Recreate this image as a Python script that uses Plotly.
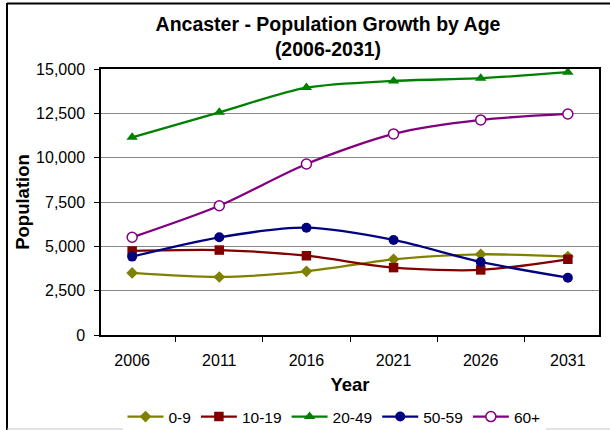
import plotly.graph_objects as go

years = ["2006", "2011", "2016", "2021", "2026", "2031"]
age_0_9 = [3500, 3270, 3590, 4270, 4550, 4420]
age_10_19 = [4740, 4790, 4470, 3800, 3670, 4270]
age_20_49 = [11150, 12560, 13950, 14330, 14480, 14820]
age_50_59 = [4420, 5510, 6050, 5360, 4120, 3230]
age_60_plus = [5510, 7290, 9645, 11340, 12130, 12465]

y_ticks = [0, 2500, 5000, 7500, 10000, 12500, 15000]

series = [
    ("0-9", age_0_9, "#808000", dict(symbol="diamond", size=9, color="#808000")),
    ("10-19", age_10_19, "#800000", dict(symbol="square", size=9.5, color="#800000")),
    ("20-49", age_20_49, "#008000", dict(symbol="triangle-up", size=10, color="#008000")),
    ("50-59", age_50_59, "#000080", dict(symbol="circle", size=10, color="#000080")),
    ("60+", age_60_plus, "#800080", dict(symbol="circle", size=10, color="#ffffff",
                                          line=dict(color="#800080", width=1.5))),
]

fig = go.Figure()
for name, vals, col, mk in series:
    fig.add_trace(go.Scatter(
        x=years, y=vals, name=name, mode="lines+markers",
        line=dict(color=col, width=2.3, shape="spline", smoothing=0.8),
        marker=mk,
    ))

FONT = "Liberation Sans, Arial, sans-serif"
L, R, T, B = 101, 11, 69, 95
W, H = 610, 430
pw, ph = W - L - R, H - T - B

def px_x(p):
    return (p - L) / pw

def px_y(p):
    return (H - B - p) / ph

fig.update_layout(
    width=W, height=H,
    margin=dict(l=L, r=R, t=T, b=B, autoexpand=False),
    paper_bgcolor="white", plot_bgcolor="white",
    font=dict(family=FONT, size=16, color="black"),
    title=dict(text="<b>Ancaster - Population Growth by Age<br>(2006-2031)</b>",
               x=328 / W, xanchor="center", y=1 - 31 / H, yanchor="middle",
               font=dict(size=19.5, family=FONT)),
    showlegend=True,
    legend=dict(orientation="h", x=px_x(334), xanchor="center", y=px_y(417),
                yanchor="middle", font=dict(size=15.5), itemwidth=36,
                tracegroupgap=0, itemclick=False),
    xaxis=dict(type="category", tickson="boundaries", ticks="outside", ticklen=5,
               tickcolor="black", showline=True, linecolor="black", linewidth=1.5,
               mirror=True, showgrid=False, tickfont=dict(size=16),
               ticklabelstandoff=10,
               title=dict(text="<b>Year</b>", font=dict(size=18.5), standoff=10)),
    yaxis=dict(range=[0, 15000], tickvals=y_ticks, tickformat=",d", ticks="outside",
               ticklen=5, tickcolor="black", showline=True, linecolor="black",
               linewidth=1.5, mirror=True, showgrid=True, gridcolor="#888888",
               gridwidth=1, zeroline=False, tickfont=dict(size=16),
               ticklabelstandoff=6,
               title=dict(text="<b>Population</b>", font=dict(size=18.5), standoff=2)),
    shapes=[
        dict(type="line", xref="paper", yref="paper", x0=px_x(7), x1=px_x(7),
             y0=px_y(3), y1=px_y(430), line=dict(color="black", width=2)),
        dict(type="line", xref="paper", yref="paper", x0=px_x(7), x1=px_x(615),
             y0=px_y(3.5), y1=px_y(3.5), line=dict(color="black", width=2)),
        dict(type="line", xref="paper", yref="paper", x0=px_x(7), x1=px_x(615),
             y0=px_y(429), y1=px_y(429), line=dict(color="#c8c8c8", width=1)),
    ],
)

fig.write_html("out.html", config={"displayModeBar": False},
               post_script="document.body.style.margin='0';")
